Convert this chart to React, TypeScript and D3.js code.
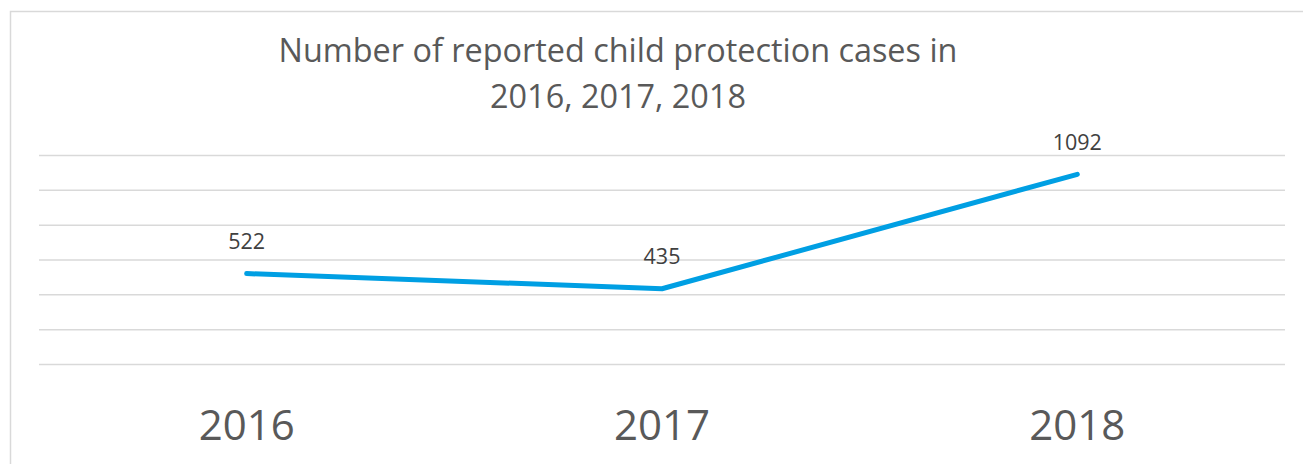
import React from "react";
import * as d3 from "d3";

const categories = ["2016", "2017", "2018"];
const values = [522, 435, 1092];
const yTicks = [0, 200, 400, 600, 800, 1000, 1200];
const titleLines = ["Number of reported child protection cases in", "2016, 2017, 2018"];

export default function App() {
  const W = 1303, H = 464;
  const left = 39, right = 1285, top = 155.5, bottom = 364.5;
  const x = d3.scaleBand<string>().domain(categories).range([left, right]);
  const y = d3.scaleLinear().domain([0, 1200]).range([bottom, top]);
  const line = d3.line<number>()
    .x((_, i) => (x(categories[i]) as number) + x.bandwidth() / 2)
    .y((d) => y(d));
  const font = "'Open Sans', sans-serif";
  return (
    <svg width={W} height={H} style={{ position: "fixed", left: 0, top: 0, background: "#fff" }}>
      <rect x={10.5} y={11.5} width={1400} height={600} fill="#fff" stroke="#d9d9d9" strokeWidth={1.5} />
      {titleLines.map((t, i) => (
        <text key={i} x={618} y={62 + i * 46} textAnchor="middle" fontFamily={font} fontSize={32.4} fill="#595959">{t}</text>
      ))}
      {yTicks.map((t) => (
        <line key={t} x1={left} x2={right} y1={y(t)} y2={y(t)} stroke="#d9d9d9" strokeWidth={1.5} />
      ))}
      <path d={line(values) || ""} fill="none" stroke="#009FE3" strokeWidth={5} strokeLinecap="round" strokeLinejoin="round" />
      {values.map((v, i) => (
        <text key={i} x={(x(categories[i]) as number) + x.bandwidth() / 2} y={y(v) - 24.5} textAnchor="middle" fontFamily={font} fontSize={21.5} fill="#404040">{v}</text>
      ))}
      {categories.map((c) => (
        <text key={c} x={(x(c) as number) + x.bandwidth() / 2} y={440} textAnchor="middle" fontFamily={font} fontSize={42} fill="#595959">{c}</text>
      ))}
    </svg>
  );
}
